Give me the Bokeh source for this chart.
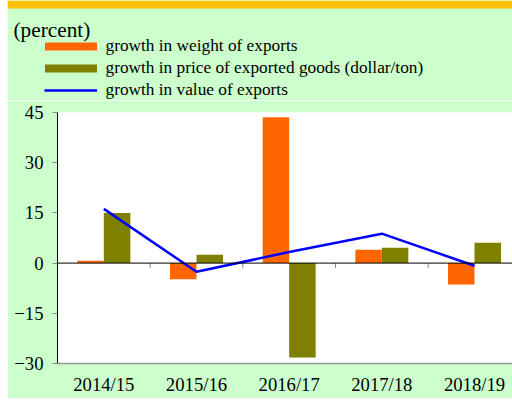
from bokeh.plotting import figure
from bokeh.layouts import column
from bokeh.models import (Range1d, FixedTicker, Span, Legend, LegendItem, Label,
                          ColumnDataSource, BoxAnnotation)
from bokeh.transform import dodge
from bokeh.embed import file_html
from bokeh.resources import INLINE

categories = ["2014/15", "2015/16", "2016/17", "2017/18", "2018/19"]
weight_growth = [0.7, -4.8, 43.6, 4.0, -6.4]
price_growth = [15.0, 2.5, -28.2, 4.6, 6.1]
value_growth = [16.2, -2.6, 3.3, 8.8, -0.8]
y_ticks = [-30, -15, 0, 15, 30, 45]
series_labels = ["growth in weight of exports",
                 "growth in price of exported goods (dollar/ton)",
                 "growth in value of exports"]
unit_label = "(percent)"

FONT = "Liberation Serif"
ORANGE = "#FF6600"
OLIVE = "#808000"
BLUE = "#0000FF"
BG = "#CCFFCC"
BAND = "#FFC000"

n = len(categories)
centers = [i + 0.5 for i in range(n)]
src = ColumnDataSource(dict(x=centers, w=weight_growth, p=price_growth, v=value_growth))

# ---------- header (unit label + legend) ----------
top = figure(width=505, height=100, output_backend="svg", toolbar_location=None,
             x_range=Range1d(7, 512), y_range=Range1d(100, 0),
             x_axis_type=None, y_axis_type=None,
             min_border_left=0, min_border_right=0, min_border_top=0, min_border_bottom=0)
top.frame_align = False
top.background_fill_color = BG
top.border_fill_color = BG
top.outline_line_color = None
top.grid.visible = False
top.add_layout(BoxAnnotation(top=0, bottom=8, fill_color=BAND, fill_alpha=1,
                             line_color=None))

# legend keys (hidden renderers sharing the chart data)
k_w = top.vbar(x="x", top="w", width=0.1, source=src, fill_color=ORANGE,
               line_color=None, visible=False)
k_p = top.vbar(x="x", top="p", width=0.1, source=src, fill_color=OLIVE,
               line_color=None, visible=False)
k_v = top.line(x="x", y="v", source=src, line_color=BLUE, line_width=2.5, visible=False)

common = dict(label_text_font=FONT, label_text_font_size="17.3px",
              label_text_color="black", spacing=0, padding=0, margin=0,
              border_line_color=None, background_fill_alpha=0,
              inactive_fill_alpha=0, click_policy="none")
leg1 = Legend(items=[LegendItem(label=series_labels[0], renderers=[k_w]),
                     LegendItem(label=series_labels[1], renderers=[k_p])],
              location=(30.5, 21), glyph_width=65, glyph_height=10, label_standoff=3,
              label_height=22, **common)
leg2 = Legend(items=[LegendItem(label=series_labels[2], renderers=[k_v])],
              location=(36.5, 0), glyph_width=53, glyph_height=10, label_standoff=9,
              label_height=20, **common)
top.add_layout(leg1, "center")
top.add_layout(leg2, "center")
top.add_layout(Label(x=13, y=29.3, text=unit_label,
                     text_font=FONT, text_font_size="21.3px", text_color="black",
                     text_baseline="alphabetic"))

# ---------- main chart ----------
fig = figure(width=505, height=298, output_backend="svg", toolbar_location=None,
             x_range=Range1d(0, 4.91), y_range=Range1d(-30, 45),
             min_border_left=50, min_border_top=12, min_border_bottom=35,
             min_border_right=0)
fig.frame_align = False
fig.background_fill_color = "white"
fig.border_fill_color = BG
fig.outline_line_color = None
fig.xgrid.grid_line_color = None
fig.ygrid.ticker = FixedTicker(ticks=[y_ticks[-1]])
fig.ygrid.grid_line_color = "#999999"
fig.ygrid.grid_line_width = 1.5

bw = 0.286
fig.vbar(x=dodge("x", -bw / 2), top="w", width=bw, source=src,
         fill_color=ORANGE, line_color=None)
fig.vbar(x=dodge("x", bw / 2), top="p", width=bw, source=src,
         fill_color=OLIVE, line_color=None)

fig.add_layout(Span(location=0, dimension="width", line_color="black", line_width=1))

bounds = list(range(1, n))
fig.segment(x0=bounds, x1=bounds, y0=[0] * len(bounds), y1=[-1.5] * len(bounds),
            line_color="#888888", line_width=1)

fig.line(x="x", y="v", source=src, line_color=BLUE, line_width=2.5)

ya = fig.yaxis[0]
ya.ticker = FixedTicker(ticks=y_ticks)
ya.axis_line_color = "black"
ya.major_tick_line_color = "#888888"
ya.major_tick_out = 5
ya.major_tick_in = 0
ya.minor_tick_line_color = None
ya.major_label_text_font = FONT
ya.major_label_text_font_size = "18.7px"
ya.major_label_text_color = "black"
ya.major_label_standoff = 9

xa = fig.xaxis[0]
xa.ticker = FixedTicker(ticks=centers)
xa.major_label_overrides = {c: lab for c, lab in zip(centers, categories)}
xa.axis_line_color = "#999999"
xa.axis_line_width = 1.5
xa.major_tick_line_color = None
xa.major_tick_out = 0
xa.major_tick_in = 0
xa.minor_tick_line_color = None
xa.major_label_text_font = FONT
xa.major_label_text_font_size = "18.7px"
xa.major_label_text_color = "black"
xa.major_label_standoff = 10

p = column(top, fig, spacing=0, margin=(0, 0, 0, 7))

open("out.html", "w").write(file_html(p, INLINE))
